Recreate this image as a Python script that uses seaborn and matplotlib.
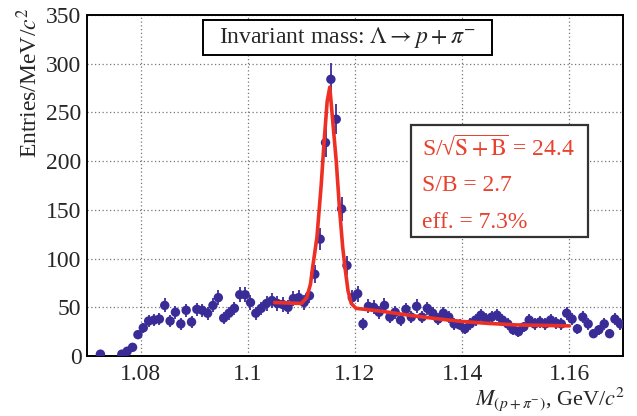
import matplotlib
matplotlib.use("Agg")
import matplotlib.pyplot as plt
import numpy as np
import pandas as pd
import seaborn as sns
from matplotlib.patches import Rectangle
from matplotlib.ticker import FixedLocator, FixedFormatter, MultipleLocator

# histogram: 1 MeV bins from 1.070 to 1.170 GeV, None = empty bin
bin_low = 1.070
bin_width = 0.001
counts = [
    None, None, 2, None, None, None, 2, 5, 9, 22,
    29, 36, 37, 38, 52, 36, 45, 33, 47, 35,
    48, 47, 44, 52, 60, 39, 44, 49, 63, 63,
    55, 44, 49, 54, 57, 54, 53, 50, 59, 60,
    55, 62, 84, 120, 219, 284, 243, 151, 93, 60,
    64, 33, 51, 50, 45, 52, 40, 45, 37, 48,
    40, 51, 40, 49, 44, 38, 44, 40, 33, 32,
    28, 33, 37, 42, 38, 40, 42, 37, 33, 27,
    25, 30, 37, 33, 35, 33, 37, 34, 33, 44,
    38, 28, 40, 33, 23, 27, 33, 23, 38, 33,
]

# fitted curve
fit_mass = [1.1050, 1.1100, 1.1110, 1.1117, 1.1121, 1.1129, 1.1137, 1.1142,
            1.1148, 1.1153, 1.1158, 1.1165, 1.1171, 1.1177, 1.1182, 1.1187,
            1.1193, 1.1202, 1.125, 1.130, 1.135, 1.140, 1.145, 1.150, 1.155, 1.160]
fit_counts = [55, 54, 60, 74, 91, 122, 176, 217,
              261, 276, 244, 200, 152, 112, 88, 67,
              54, 49, 46, 42, 38.5, 35.5, 33.5, 32, 31.5, 31]

x_ticks = [1.08, 1.10, 1.12, 1.14, 1.16]
x_tick_labels = ["1.08", "1.1", "1.12", "1.14", "1.16"]
y_ticks = [0, 50, 100, 150, 200, 250, 300, 350]

title_text = r"Invariant mass: $\Lambda \rightarrow p + \pi^{-}$"
stats_lines = [r"S/√$\overline{\mathrm{S}+\mathrm{B}}$ = 24.4", "S/B = 2.7", "eff. = 7.3%"]

point_color = "#3a2c97"
fit_color = "#ee3024"
text_red = "#e8412e"

sns.set_theme(style="white")
plt.rcParams["font.family"] = ["Liberation Serif", "DejaVu Serif"]
plt.rcParams["mathtext.fontset"] = "stix"
plt.rcParams["axes.edgecolor"] = "black"
plt.rcParams["axes.linewidth"] = 1.4

hist = pd.DataFrame({
    "mass": bin_low + bin_width / 2 + bin_width * np.arange(len(counts)),
    "entries": pd.Series(counts, dtype="float"),
}).dropna()
fit = pd.DataFrame({"mass": fit_mass, "entries": fit_counts})

fig = plt.figure(figsize=(6.37, 4.16), dpi=100)
ax = fig.add_axes([0.1366, 0.144, 0.8414, 0.820])

ax.errorbar(hist["mass"], hist["entries"], yerr=np.sqrt(hist["entries"]),
            fmt="none", ecolor=point_color, elinewidth=1.3, zorder=2)
sns.scatterplot(data=hist, x="mass", y="entries", ax=ax, color=point_color,
                s=46, edgecolor="none", zorder=3)
sns.lineplot(data=fit, x="mass", y="entries", ax=ax, color=fit_color,
             linewidth=2.6, zorder=4)

ax.set_xlim(1.07, 1.17)
ax.set_ylim(0, 350)
ax.xaxis.set_major_locator(FixedLocator(x_ticks))
ax.xaxis.set_major_formatter(FixedFormatter(x_tick_labels))
ax.xaxis.set_minor_locator(MultipleLocator(0.005))
ax.yaxis.set_major_locator(FixedLocator(y_ticks))
ax.yaxis.set_minor_locator(MultipleLocator(10))
ax.tick_params(axis="x", which="major", direction="in", length=7, width=1.3,
               labelsize=17, pad=6, top=False)
ax.tick_params(axis="x", which="minor", direction="in", length=3.6, width=1.1, top=False)
ax.tick_params(axis="y", which="major", direction="in", length=11, width=1.3,
               labelsize=17, pad=4, right=False)
ax.tick_params(axis="y", which="minor", direction="in", length=6, width=1.1, right=False)
ax.grid(True, which="major", linestyle=(0, (1, 2)), color="#777777", linewidth=0.9)
ax.set_xlabel("")
ax.set_ylabel("")

fig.text(0.0455, 0.981, r"Entries/MeV/$c^{2}$", rotation=90, ha="center",
         va="top", fontsize=17)
fig.text(0.981, 0.026, r"$M_{(p+\pi^{-})}$, GeV/$c^{2}$", ha="right",
         va="baseline", fontsize=16)

fig.patches.append(Rectangle((0.3187, 0.8678), 0.4537, 0.0841, transform=fig.transFigure,
                             facecolor="white", edgecolor="black", linewidth=1.4, zorder=5))
fig.text(0.5455, 0.9099, title_text, ha="center", va="center", fontsize=17, zorder=6)

fig.patches.append(Rectangle((0.645, 0.430), 0.278, 0.269, transform=fig.transFigure,
                             facecolor="white", edgecolor="#333333", linewidth=1.6, zorder=5))
for line, y in zip(stats_lines, [0.644, 0.555, 0.466]):
    fig.text(0.6625, y, line, ha="left", va="center", fontsize=17, color=text_red, zorder=6)

fig.savefig("out.png", dpi=100)
